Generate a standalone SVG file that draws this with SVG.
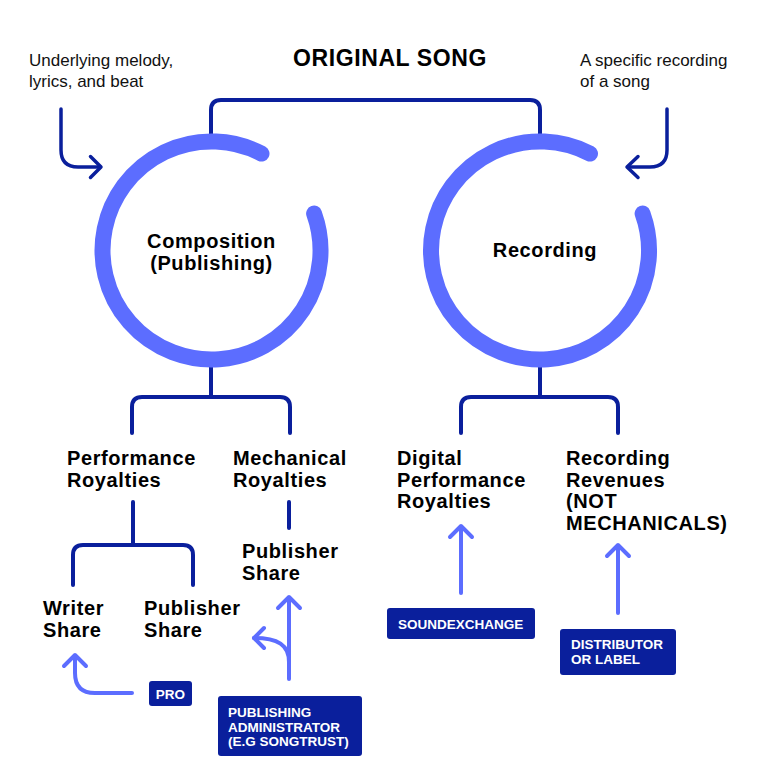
<svg xmlns="http://www.w3.org/2000/svg" width="768" height="780" viewBox="0 0 768 780">
<style>
.bg{fill:#ffffff}
.navy{fill:none;stroke:#0a1f9c;stroke-width:4;stroke-linecap:round;stroke-linejoin:round}
.navy2{fill:none;stroke:#0a1f9c;stroke-width:3.5;stroke-linecap:round;stroke-linejoin:round}
.light{fill:none;stroke:#5c6dff;stroke-width:4;stroke-linecap:round;stroke-linejoin:round}
.ring{fill:none;stroke:#5c6dff;stroke-width:16;stroke-linecap:round}
.box{fill:#0a1f9c}
.title{font-family:"Liberation Sans",Arial,sans-serif;font-weight:bold;font-size:23px;letter-spacing:0.6px;fill:#000}
.desc{font-family:"Liberation Sans",Arial,sans-serif;font-size:17px;fill:#111}
.lbl{font-family:"Liberation Sans",Arial,sans-serif;font-weight:bold;font-size:20px;letter-spacing:0.6px;fill:#000}
.btx{font-family:"Liberation Sans",Arial,sans-serif;font-weight:bold;font-size:13.5px;fill:#fff}
</style>
<rect class="bg" x="0" y="0" width="768" height="780"/>

<g id="connectors">
  <path class="navy" d="M211,140 V110 Q211,100 221,100 H530 Q540,100 540,110 V140"/>
  <path class="navy" d="M211,360 V397"/>
  <path class="navy" d="M132,433 V407 Q132,397 142,397 H280 Q290,397 290,407 V433"/>
  <path class="navy" d="M540,360 V397"/>
  <path class="navy" d="M461,433 V407 Q461,397 471,397 H608 Q618,397 618,407 V433"/>
  <path class="navy" d="M133,502 V545"/>
  <path class="navy" d="M73,585 V555 Q73,545 83,545 H183 Q193,545 193,555 V585"/>
  <path class="navy" d="M289,502 V528"/>
  <path class="navy2" d="M61,109 V150 Q61,167 78,167 H100"/>
  <path class="navy2" d="M90.5,156.5 L101,167 L90.5,177.5"/>
  <path class="navy2" d="M667,109 V150 Q667,167 650,167 H628"/>
  <path class="navy2" d="M638,156.5 L627,167 L638,177.5"/>
  <path class="light" d="M461,593 V527"/>
  <path class="light" d="M450,537 L461,526 L472,537"/>
  <path class="light" d="M618,613 V546"/>
  <path class="light" d="M607,556 L618,545 L629,556"/>
  <path class="light" d="M289,679 V598"/>
  <path class="light" d="M278,608 L289,597 L300,608"/>
  <path class="light" d="M289,662 C289,645 278,638 254,638"/>
  <path class="light" d="M264,628 L254,638 L264,648"/>
  <path class="light" d="M132,693 H95 Q75,693 75,673 V656"/>
  <path class="light" d="M64,666 L75,655 L86,666"/>
</g>

<g id="title">
  <text class="title" x="390" y="66" text-anchor="middle">ORIGINAL SONG</text>
</g>
<g id="desc-left">
  <text class="desc" x="29" y="66">Underlying melody,</text>
  <text class="desc" x="29" y="87">lyrics, and beat</text>
</g>
<g id="desc-right">
  <text class="desc" x="580" y="66">A specific recording</text>
  <text class="desc" x="580" y="87">of a song</text>
</g>

<g id="composition">
  <path class="ring" d="M314.1,213.6 A109,109 0 1 1 261.5,153.6"/>
  <text class="lbl" x="211.5" y="248" text-anchor="middle">Composition</text>
  <text class="lbl" x="211.5" y="270" text-anchor="middle">(Publishing)</text>
</g>
<g id="recording">
  <path class="ring" d="M642.6,213.6 A109,109 0 1 1 590,153.6"/>
  <text class="lbl" x="545" y="257" text-anchor="middle">Recording</text>
</g>

<g id="performance-royalties">
  <text class="lbl" x="67" y="465">Performance</text>
  <text class="lbl" x="67" y="487">Royalties</text>
</g>
<g id="mechanical-royalties">
  <text class="lbl" x="233" y="465">Mechanical</text>
  <text class="lbl" x="233" y="487">Royalties</text>
</g>
<g id="digital-performance-royalties">
  <text class="lbl" x="397" y="465">Digital</text>
  <text class="lbl" x="397" y="487">Performance</text>
  <text class="lbl" x="397" y="508">Royalties</text>
</g>
<g id="recording-revenues">
  <text class="lbl" x="566" y="465">Recording</text>
  <text class="lbl" x="566" y="487">Revenues</text>
  <text class="lbl" x="566" y="508">(NOT</text>
  <text class="lbl" x="566" y="530">MECHANICALS)</text>
</g>
<g id="mech-publisher-share">
  <text class="lbl" x="242" y="558">Publisher</text>
  <text class="lbl" x="242" y="580">Share</text>
</g>
<g id="writer-share">
  <text class="lbl" x="43" y="615">Writer</text>
  <text class="lbl" x="43" y="637">Share</text>
</g>
<g id="perf-publisher-share">
  <text class="lbl" x="144" y="615">Publisher</text>
  <text class="lbl" x="144" y="637">Share</text>
</g>

<g id="pro">
  <rect class="box" x="149" y="681" width="43" height="25" rx="3"/>
  <text class="btx" x="170.5" y="698.5" text-anchor="middle">PRO</text>
</g>
<g id="publishing-administrator">
  <rect class="box" x="218" y="696" width="144" height="60" rx="3"/>
  <text class="btx" x="228" y="717">PUBLISHING</text>
  <text class="btx" x="228" y="731.5">ADMINISTRATOR</text>
  <text class="btx" x="228" y="746">(E.G SONGTRUST)</text>
</g>
<g id="soundexchange">
  <rect class="box" x="387" y="608" width="148" height="31" rx="3"/>
  <text class="btx" x="398" y="628.5">SOUNDEXCHANGE</text>
</g>
<g id="distributor">
  <rect class="box" x="560" y="629" width="116" height="46" rx="3"/>
  <text class="btx" x="571" y="649">DISTRIBUTOR</text>
  <text class="btx" x="571" y="663.5">OR LABEL</text>
</g>
</svg>
